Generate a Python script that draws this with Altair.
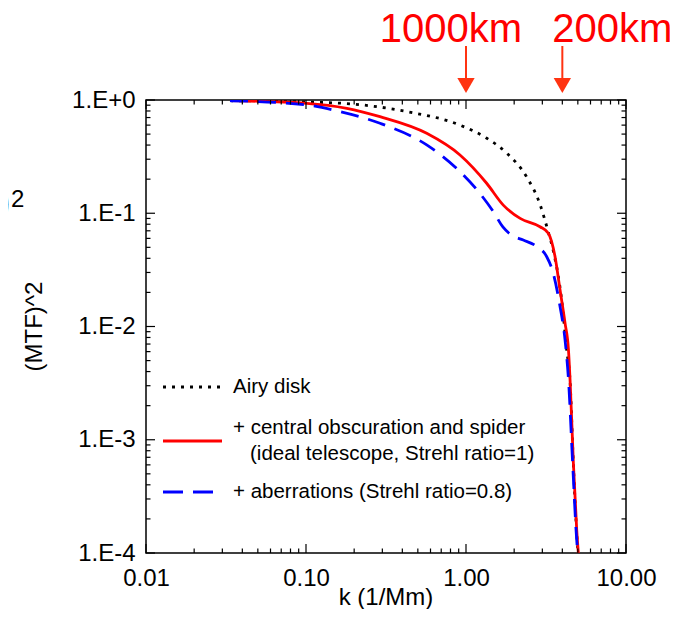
import altair as alt
import pandas as pd

FONT = "Liberation Sans"

# ---- data ----
k_airy = [0.0335, 0.06, 0.10, 0.198, 0.426, 0.917, 1.35, 1.80, 2.39, 2.90, 3.27, 3.52, 3.96, 4.26, 4.47, 4.69, 4.92, 5.05]
mtf_airy = [0.986, 0.975, 0.960, 0.92, 0.79, 0.60, 0.459, 0.339, 0.21, 0.12, 0.068, 0.046, 0.0172, 0.0062, 0.0033, 6.0e-4, 1.5e-4, 8.6e-5]

k_obsc = [0.0335, 0.101, 0.180, 0.290, 0.568, 0.917, 1.346, 1.71, 2.18, 2.90, 3.27, 3.60, 3.87, 4.16, 4.37, 4.47, 4.69, 4.92, 5.08]
mtf_obsc = [0.986, 0.935, 0.845, 0.712, 0.508, 0.327, 0.184, 0.118, 0.090, 0.076, 0.0666, 0.0415, 0.0211, 0.0107, 0.0062, 0.0034, 6.2e-4, 1.6e-4, 8.6e-5]

k_aber = [0.0335, 0.101, 0.163, 0.290, 0.568, 0.917, 1.22, 1.486, 1.70, 1.94, 2.28, 2.77, 3.19, 3.52, 3.87, 4.16, 4.37, 4.64, 4.92, 5.05]
mtf_aber = [0.986, 0.904, 0.789, 0.623, 0.401, 0.233, 0.150, 0.1026, 0.0757, 0.0637, 0.058, 0.0508, 0.0415, 0.0291, 0.015, 0.0076, 0.0034, 6.2e-4, 1.3e-4, 8.6e-5]

x_major = [0.01, 0.1, 1.0, 10.0]
x_labels = ["0.01", "0.10", "1.00", "10.00"]
y_major = [1.0, 0.1, 0.01, 0.001, 0.0001]
y_labels = ["1.E+0", "1.E-1", "1.E-2", "1.E-3", "1.E-4"]
mults = [2, 3, 4, 5, 6, 7, 8, 9]
x_minor = [m * d for d in [0.01, 0.1, 1.0] for m in mults]
y_minor = [m * d for d in [0.0001, 0.001, 0.01, 0.1] for m in mults]

arrow_k = [1.0, 4.0]
arrow_labels = ["1000km", "200km"]

legend_labels = ["Airy disk",
                 "+ central obscuration and spider",
                 "(ideal telescope, Strehl ratio=1)",
                 "+ aberrations (Strehl ratio=0.8)"]

W, H = 480, 453

xscale = alt.Scale(type="log", domain=[0.01, 10], nice=False)
yscale = alt.Scale(type="log", domain=[1e-4, 1], nice=False)


def label_expr(vals, labels):
    expr = "''"
    for v, l in reversed(list(zip(vals, labels))):
        expr = f"datum.value == {v!r} ? '{l}' : ({expr})"
    return expr


xaxis = alt.Axis(values=x_major, labelExpr=label_expr(x_major, x_labels), ticks=False, tickSize=0,
                 domain=False, grid=False, labelFont=FONT, labelFontSize=24, labelColor="black",
                 labelPadding=13, labelFlush=False, labelOverlap=False, title=None)
yaxis = alt.Axis(values=y_major, labelExpr=label_expr(y_major, y_labels), ticks=False, tickSize=0,
                 domain=False, grid=False, labelFont=FONT, labelFontSize=24, labelColor="black",
                 labelPadding=11, labelFlush=False, labelOverlap=False, title=None)


def X(field="k"):
    return alt.X(f"{field}:Q", scale=xscale, axis=xaxis)


def Y(field="v"):
    return alt.Y(f"{field}:Q", scale=yscale, axis=yaxis)


df_airy = pd.DataFrame({"k": k_airy, "v": mtf_airy})
df_obsc = pd.DataFrame({"k": k_obsc, "v": mtf_obsc})
df_aber = pd.DataFrame({"k": k_aber, "v": mtf_aber})

airy = alt.Chart(df_airy).mark_line(color="black", strokeDash=[3, 6], strokeWidth=2.8,
                                    interpolate="monotone", clip=True).encode(x=X(), y=Y())
obsc = alt.Chart(df_obsc).mark_line(color="#FF0000", strokeWidth=2.8,
                                    interpolate="monotone", clip=True).encode(x=X(), y=Y())
aber = alt.Chart(df_aber).mark_line(color="#0000FF", strokeDash=[18, 10], strokeWidth=2.8,
                                    interpolate="monotone", clip=True).encode(x=X(), y=Y())


def xticks(vals, length):
    d = pd.DataFrame({"k": vals})
    bottom = alt.Chart(d).mark_rule(color="black", strokeWidth=1.2).encode(
        x=X(), y=alt.value(H), y2=alt.value(H - length))
    top = alt.Chart(d).mark_rule(color="black", strokeWidth=1.2).encode(
        x=X(), y=alt.value(0), y2=alt.value(length))
    return [bottom, top]


def yticks(vals, length):
    d = pd.DataFrame({"v": vals})
    left = alt.Chart(d).mark_rule(color="black", strokeWidth=1.2).encode(
        y=Y(), x=alt.value(0), x2=alt.value(length))
    right = alt.Chart(d).mark_rule(color="black", strokeWidth=1.2).encode(
        y=Y(), x=alt.value(W), x2=alt.value(W - length))
    return [left, right]


ticks = xticks(x_major, 9) + xticks(x_minor, 4.5) + yticks(y_major, 9) + yticks(y_minor, 4.5)


def text(t, x, y, size, align="left", baseline="middle", angle=0, color="black"):
    return alt.Chart(pd.DataFrame({"t": [t]})).mark_text(
        font=FONT, fontSize=size, align=align, baseline=baseline, angle=angle, color=color
    ).encode(x=alt.value(x), y=alt.value(y), text="t:N")


# arrows at top
df_arrow = pd.DataFrame({"k": arrow_k})
arrow_line = alt.Chart(df_arrow).mark_rule(color="#FF3311", strokeWidth=2).encode(
    x=X(), y=alt.value(-54), y2=alt.value(-20))
arrow_head = alt.Chart(df_arrow).mark_point(shape="triangle-down", filled=True, size=300,
                                            color="#FF3311", opacity=1).encode(
    x=X(), y=alt.value(-14.5))
ann1 = alt.Chart(pd.DataFrame({"k": [arrow_k[0]], "t": [arrow_labels[0]]})).mark_text(
    font=FONT, fontSize=40, color="#FF0000", baseline="alphabetic", align="center", dx=-15).encode(
    x=X(), y=alt.value(-58), text="t:N")
ann2 = alt.Chart(pd.DataFrame({"k": [arrow_k[1]], "t": [arrow_labels[1]]})).mark_text(
    font=FONT, fontSize=40, color="#FF0000", baseline="alphabetic", align="center", dx=50).encode(
    x=X(), y=alt.value(-58), text="t:N")

# legend
leg_df = pd.DataFrame({"a": [0]})
leg_airy = alt.Chart(leg_df).mark_rule(color="black", strokeDash=[3, 6], strokeWidth=2.8).encode(
    x=alt.value(17), x2=alt.value(76), y=alt.value(287))
leg_obsc = alt.Chart(leg_df).mark_rule(color="#FF0000", strokeWidth=2.8).encode(
    x=alt.value(17), x2=alt.value(76), y=alt.value(341))
leg_aber = alt.Chart(leg_df).mark_rule(color="#0000FF", strokeDash=[20, 10], strokeWidth=2.8).encode(
    x=alt.value(17), x2=alt.value(76), y=alt.value(392))
leg_texts = [
    text(legend_labels[0], 87, 287, 20.5),
    text(legend_labels[1], 87, 328, 20.5),
    text(legend_labels[2], 104, 354, 20.5),
    text(legend_labels[3], 87, 392, 20.5),
]

titles = [
    text("k (1/Mm)", W / 2, 498, 24, align="center"),
    text("(MTF)^2", -111, H / 2, 24, align="center", angle=270),
    text(")", -135, 116, 44, align="right", baseline="alphabetic"),
    text("2", -135, 107, 24, align="left", baseline="alphabetic"),
]

chart = alt.layer(
    airy, obsc, aber, *ticks, arrow_line, arrow_head, ann1, ann2,
    leg_airy, leg_obsc, leg_aber, *leg_texts, *titles
).properties(
    width=W, height=H,
    padding={"left": 138, "top": 92, "right": 52, "bottom": 56},
    autosize=alt.AutoSizeParams(type="none"),
    background="white",
).configure_view(stroke="black", strokeWidth=1.5)

chart.save("out.html", embed_options={"renderer": "svg", "actions": False})
